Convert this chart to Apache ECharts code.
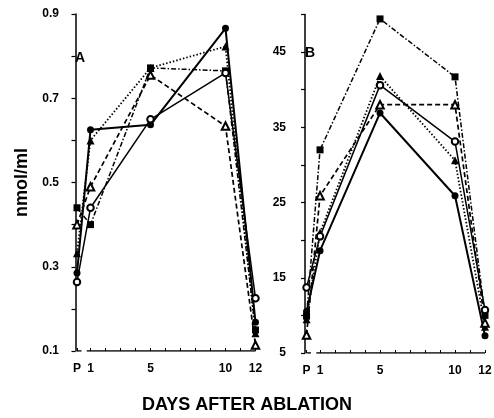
<!DOCTYPE html>
<html><head><meta charset="utf-8">
<script src="https://cdn.jsdelivr.net/npm/echarts@6/dist/echarts.min.js"></script>
<style>html,body{margin:0;padding:0;background:#fff}#c{width:494px;height:418px}</style>
</head><body><div id="c"></div>
<script>
// Day positions: P (pre-ablation) plotted just before day 1
const days = [0.1, 1, 5, 10, 12];
const dayLabels = {0.1: 'P', 1: '1', 5: '5', 10: '10', 12: '12'};
const tickDays = [0.1,1,2,3,4,5,6,7,8,9,10,11,12];

// Panel A (nmol/ml)
const A_filledCircle   = [0.285, 0.625, 0.637, 0.866, 0.168];
const A_filledTriangle = [0.332, 0.600, 0.772, 0.823, 0.142];
const A_filledSquare   = [0.440, 0.400, 0.772, 0.765, 0.150];
const A_openCircle     = [0.264, 0.440, 0.650, 0.760, 0.225];
const A_openTriangle   = [0.400, 0.490, 0.755, 0.634, 0.114];

// Panel B (nmol/ml)
const B_filledCircle   = [10.5, 18.6, 36.9, 25.9, 7.3];
const B_filledTriangle = [9.5, 21.0, 41.8, 30.6, 8.5];
const B_filledSquare   = [9.9, 32.0, 49.4, 41.7, 10.0];
const B_openCircle     = [13.7, 20.5, 40.6, 33.1, 10.7];
const B_openTriangle   = [7.4, 25.9, 38.0, 38.0, 9.0];

const styles = [
  {symbol:'circle', type:'solid', width:2, size:7},
  {symbol:'triangle', type:[1.5,2], width:1.8, size:8},
  {symbol:'rect', type:[5,2,1.5,2], width:1.5, size:7},
  {symbol:'emptyCircle', type:'solid', width:1.5, size:6.5},
  {symbol:'emptyTriangle', type:[5,3], width:1.7, size:7.5}
];

function mk(vals, idx, st) {
  return {
    type:'line', xAxisIndex: idx, yAxisIndex: idx,
    data: days.map((d,i)=>[d, vals[i]]),
    symbol: st.symbol, symbolSize: st.size,
    showSymbol:true, animation:false,
    itemStyle:{color:'#000', borderColor:'#000', borderWidth: st.symbol.startsWith('empty')?1.6:0},
    lineStyle:{color:'#000', width: st.width, type: st.type},
    z: 3
  };
}
function axisLineSeries(idx, y) {
  return {
    type:'line', xAxisIndex: idx, yAxisIndex: idx, silent:true, animation:false,
    symbol:'none', connectNulls:false,
    data:[[0.1,y],[0.4,y],[null,null],[0.75,y],[12,y]],
    lineStyle:{color:'#000', width:1.5}, z:1
  };
}
const fontBase = {fontFamily:'Liberation Sans', fontWeight:'bold', color:'#000', fontSize:12};

function xAxis(idx, min) {
  return {
    type:'value', gridIndex: idx, min: min, max: 12,
    axisLine:{show:false}, splitLine:{show:false},
    axisTick:{show:true, inside:true, length:3, customValues: tickDays, lineStyle:{color:'#000', width:1}},
    axisLabel:{show:true, customValues: days, margin: 12, formatter: v => dayLabels[v] !== undefined ? dayLabels[v] : '', ...fontBase}
  };
}

const option = {
  backgroundColor:'#fff',
  animation:false,
  grid:[
    {left:65, top:14, width:190.5, height:337, containLabel:false, outerBoundsMode:'none'},
    {left:292, top:14.4, width:193, height:338.6, containLabel:false, outerBoundsMode:'none'}
  ],
  xAxis:[ xAxis(0, -0.7), xAxis(1, -0.87) ],
  yAxis:[
    {type:'value', gridIndex:0, min:0.1, max:0.9, interval:0.1,
     name:'nmol/ml', nameLocation:'middle', nameGap:34, nameRotate:90,
     nameTextStyle:{fontFamily:'Liberation Sans', fontWeight:'bold', fontSize:18, color:'#000'},
     axisLine:{show:true, lineStyle:{color:'#000', width:1.5}},
     axisTick:{show:true, inside:false, length:4, lineStyle:{color:'#000', width:1.2}},
     splitLine:{show:false},
     axisLabel:{margin:6, formatter: v => (Math.round(v*10)%2===1 ? v.toFixed(1) : ''), ...fontBase}},
    {type:'value', gridIndex:1, min:5, max:50, interval:5,
     axisLine:{show:true, lineStyle:{color:'#000', width:1.5}},
     axisTick:{show:true, inside:false, length:4, lineStyle:{color:'#000', width:1.2}},
     splitLine:{show:false},
     axisLabel:{margin:6, formatter: v => (Math.round(v/5)%2===1 ? String(Math.round(v)) : ''), ...fontBase}}
  ],
  graphic:[
    {type:'text', left:75, top:51, style:{text:'A', fontFamily:'Liberation Sans', fontWeight:'bold', fontSize:14, fill:'#000'}},
    {type:'text', left:305, top:46, style:{text:'B', fontFamily:'Liberation Sans', fontWeight:'bold', fontSize:14, fill:'#000'}},
    {type:'text', left:'center', top:396, style:{text:'DAYS AFTER ABLATION', fontFamily:'Liberation Sans', fontWeight:'bold', fontSize:18, fill:'#000'}}
  ],
  series:[
    axisLineSeries(0, 0.1), axisLineSeries(1, 5),
    mk(A_filledCircle,0,styles[0]), mk(A_filledTriangle,0,styles[1]), mk(A_filledSquare,0,styles[2]),
    mk(A_openCircle,0,styles[3]), mk(A_openTriangle,0,styles[4]),
    mk(B_filledCircle,1,styles[0]), mk(B_filledTriangle,1,styles[1]), mk(B_filledSquare,1,styles[2]),
    mk(B_openCircle,1,styles[3]), mk(B_openTriangle,1,styles[4])
  ]
};
const chart = echarts.init(document.getElementById('c'), null, {renderer:'canvas'});
chart.setOption(option);
</script></body></html>
